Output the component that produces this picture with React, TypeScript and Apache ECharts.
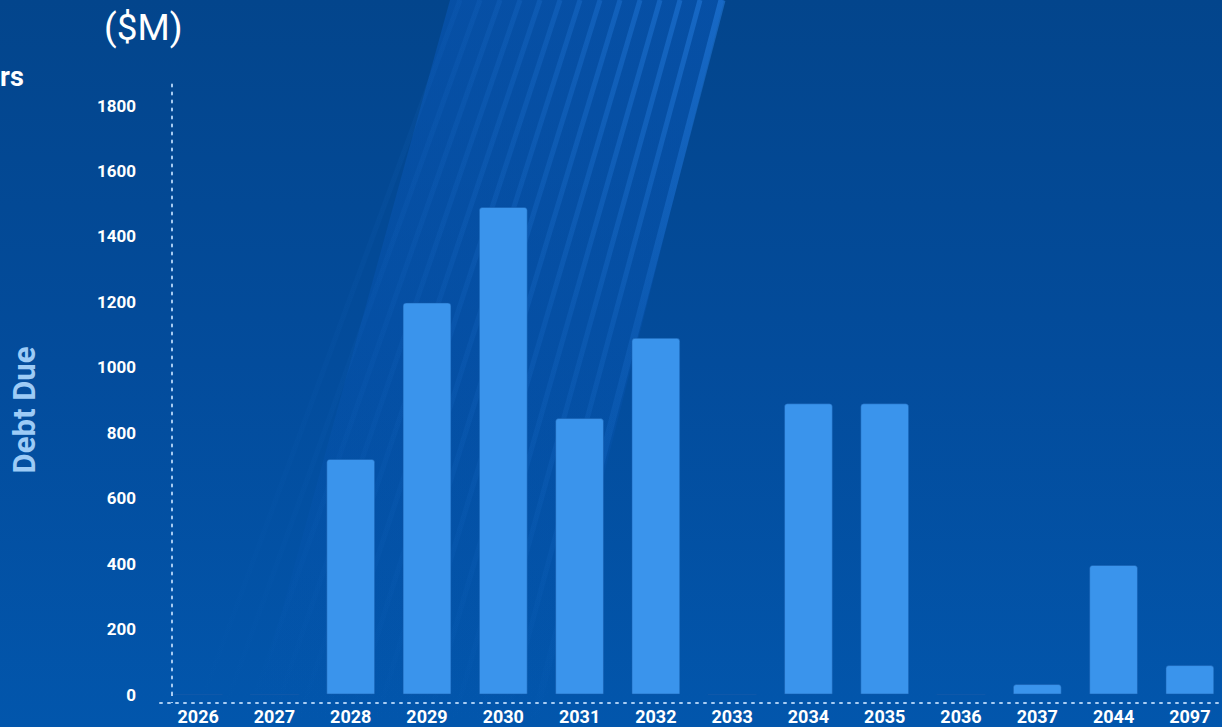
import React, { useEffect, useRef } from "react";
import * as echarts from "echarts";

const categories = ["2026", "2027", "2028", "2029", "2030", "2031", "2032", "2033", "2034", "2035", "2036", "2037", "2044", "2097"];
const debtDue = [0, 0, 720, 1198, 1490, 845, 1090, 0, 890, 890, 0, 32, 396, 90];
const yMax = 1875;
const yInterval = 200;

const streakTopX = [722, 700, 680, 660, 640, 620, 600, 580, 560, 540, 520, 500, 480, 460];

export default function App() {
  const ref = useRef<HTMLDivElement>(null);
  useEffect(() => {
    if (!ref.current) return;
    const chart = echarts.init(ref.current, undefined, { renderer: "svg" });
    const streaks = streakTopX.map((x, i) => ({
      type: "line",
      z: -10,
      silent: true,
      shape: { x1: x, y1: 0, x2: x - 190 - i * 6, y2: 727 },
      style: {
        stroke: {
          type: "linear", x: 0, y: 0, x2: 0, y2: 1,
          colorStops: [
            { offset: 0, color: `rgba(40,130,230,${0.5 - i * 0.032})` },
            { offset: 0.45, color: `rgba(40,130,230,${0.2 - i * 0.012})` },
            { offset: 1, color: "rgba(40,130,230,0)" },
          ],
        },
        lineWidth: i === 0 ? 7 : 5,
      },
    }));
    chart.setOption({
      animation: false,
      backgroundColor: "transparent",
      graphic: [
        {
          type: "polygon",
          z: -11,
          silent: true,
          shape: { points: [[450, 0], [724, 0], [540, 727], [250, 727]] },
          style: {
            fill: {
              type: "linear", x: 0, y: 0, x2: 0, y2: 1,
              colorStops: [
                { offset: 0, color: "rgba(10,90,190,0.5)" },
                { offset: 1, color: "rgba(10,90,190,0)" },
              ],
            },
          },
        },
        ...streaks,
        {
          type: "line",
          silent: true,
          shape: { x1: 172, y1: 694, x2: 172, y2: 703 },
          style: { stroke: "#A9CDF2", lineWidth: 2, lineDash: [2, 6] },
        },
        {
          type: "text",
          left: 104,
          top: 9,
          style: { text: "($M)", fill: "#ffffff", font: "400 37px Roboto" },
        },
        {
          type: "text",
          left: 0,
          top: 63,
          style: { text: "rs", fill: "#ffffff", font: "700 27px Roboto" },
        },
        {
          type: "text",
          x: 24,
          y: 410,
          rotation: Math.PI / 2,
          style: {
            text: "Debt Due",
            fill: "#9DCBF6",
            font: "700 31px Roboto",
            align: "center",
            verticalAlign: "middle",
          },
        },
      ],
      grid: { left: 160, right: 4, top: 81, bottom: 32.5, containLabel: false },
      xAxis: {
        type: "category",
        data: categories,
        offset: 8,
        axisLine: { show: true, onZero: false, lineStyle: { color: "#A9CDF2", width: 2, type: [2, 6] } },
        axisTick: { show: false },
        axisLabel: { color: "#ffffff", fontFamily: "Roboto", fontWeight: 700, fontSize: 18, margin: 5, interval: 0 },
        splitLine: { show: false },
      },
      yAxis: {
        type: "value",
        min: 0,
        max: yMax,
        interval: yInterval,
        offset: -12,
        axisLine: { show: true, lineStyle: { color: "#A9CDF2", width: 2, type: [2, 6] } },
        axisTick: { show: false },
        splitLine: { show: false },
        axisLabel: {
          color: "#ffffff",
          fontFamily: "Roboto",
          fontWeight: 700,
          fontSize: 17,
          margin: 36,
          showMaxLabel: false,
          formatter: (v: number) => String(v),
        },
      },
      series: [
        {
          type: "bar",
          data: debtDue,
          barWidth: "64%",
          itemStyle: { color: "#3A94EC", borderRadius: [3, 3, 0, 0], borderColor: "rgba(20,90,170,0.5)", borderWidth: 1 },
        },
      ],
    });
    return () => chart.dispose();
  }, []);
  return (
    <div
      style={{
        position: "fixed",
        left: 0,
        top: 0,
        width: 1222,
        height: 727,
        overflow: "hidden",
        background: "linear-gradient(180deg, #03458C 0%, #034C9C 50%, #0256AC 100%)",
      }}
    >
      <div ref={ref} style={{ width: 1232, height: 727 }} />
    </div>
  );
}
